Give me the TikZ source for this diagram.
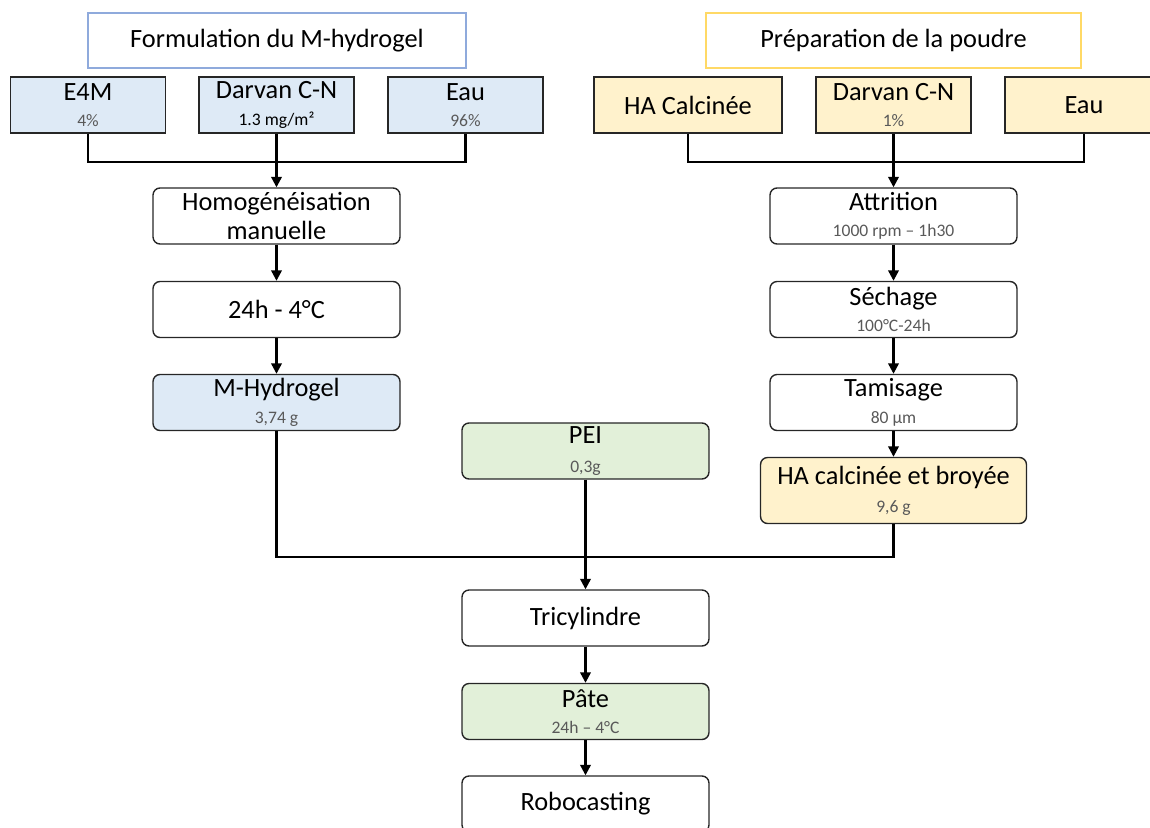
\documentclass[tikz,border=0pt]{standalone}
\usepackage{fontspec}
\setmainfont{Carlito}
\usetikzlibrary{arrows.meta}

% Text sizes used in the boxes
\newcommand{\mainsize}{\fontsize{15}{17}\selectfont}
\newcommand{\subtxt}[1]{{\fontsize{10}{11}\selectfont\color{subGrey}#1}}

\begin{document}
\begin{tikzpicture}[x=0.02cm, y=-0.02cm,
    base/.style={draw=boxLine, line width=0.8pt, align=center, inner sep=0pt, minimum height=1.12cm, font=\mainsize},
    inbox/.style={base, minimum width=3.1cm},
    stepbox/.style={base, rounded corners=0.14cm, minimum width=4.94cm},
    titlebox/.style={draw, line width=1.3pt, minimum height=1.1cm, font=\mainsize},
    link/.style={line width=1.3pt, draw=black},
    arrowlink/.style={link, -{Triangle[length=6pt, width=6pt]}}]
    % Define colours
    \definecolor{boxLine}{HTML}{262626}
    \definecolor{subGrey}{HTML}{595959}
    \definecolor{blueFill}{HTML}{DEEAF6}
    \definecolor{yellowFill}{HTML}{FFF2CC}
    \definecolor{greenFill}{HTML}{E2F0D9}
    \definecolor{blueEdge}{HTML}{8FAADC}
    \definecolor{yellowEdge}{HTML}{FFD966}

    % Macros for the two column centres and the merge line
    \def\leftX{276.5} % centre of the hydrogel column
    \def\rightX{893.5} % centre of the powder column
    \def\midX{585.5} % centre of the paste column
    \def\joinY{162} % height of the top junctions
    \def\mergeY{557} % height of the merge line

    % Fix the page size
    \useasboundingbox (0,0) rectangle (1150,828);

    % Titles of the two branches
    \node[titlebox, draw=blueEdge, minimum width=7.56cm] (titleL) at (277,40.5) {Formulation du M-hydrogel};
    \node[titlebox, draw=yellowEdge, minimum width=7.5cm] (titleR) at (\rightX,40.5) {Préparation de la poudre};

    % Ingredients of the hydrogel
    \node[inbox, fill=blueFill] (e4m) at (88,105) {E4M\\[-2pt]\subtxt{4\%}};
    \node[inbox, fill=blueFill] (darvanL) at (\leftX,105) {Darvan C-N\\[-2pt]{\fontsize{10}{11}\selectfont 1.3 mg/m²}};
    \node[inbox, fill=blueFill] (eauL) at (465.5,105) {Eau\\[-2pt]\subtxt{96\%}};

    % Ingredients of the powder
    \node[inbox, fill=yellowFill, minimum width=3.76cm] (haC) at (688,105) {HA Calcinée};
    \node[inbox, fill=yellowFill] (darvanR) at (\rightX,105) {Darvan C-N\\[-2pt]\subtxt{1\%}};
    \node[inbox, fill=yellowFill, minimum width=3.16cm] (eauR) at (1084,105) {Eau};

    % Hydrogel column
    \node[stepbox] (homog) at (\leftX,216) {Homogénéisation\\[0pt]manuelle};
    \node[stepbox] (froid) at (\leftX,309.5) {24h - 4°C};
    \node[stepbox, fill=blueFill] (hydrogel) at (\leftX,402.5) {M-Hydrogel\\[-2pt]\subtxt{3,74 g}};

    % Powder column
    \node[stepbox] (attrition) at (\rightX,216) {Attrition\\[-2pt]\subtxt{1000 rpm – 1h30}};
    \node[stepbox] (sechage) at (\rightX,309.5) {Séchage\\[-2pt]\subtxt{100°C-24h}};
    \node[stepbox] (tamisage) at (\rightX,402.5) {Tamisage\\[-2pt]\subtxt{80 µm}};
    \node[stepbox, fill=yellowFill, minimum width=5.32cm, minimum height=1.32cm] (broyee) at (\rightX,490.5) {HA calcinée et broyée\\[-1pt]\subtxt{9,6 g}};

    % Paste column
    \node[stepbox, fill=greenFill] (pei) at (\midX,451) {PEI\\[-1pt]\subtxt{0,3g}};
    \node[stepbox] (tricyl) at (\midX,618) {Tricylindre};
    \node[stepbox, fill=greenFill] (pate) at (\midX,711.5) {Pâte\\[-2pt]\subtxt{24h – 4°C}};
    \node[stepbox] (robo) at (\midX,804) {Robocasting};

    % Junction points
    \coordinate (joinL) at (\leftX,\joinY);
    \coordinate (joinR) at (\rightX,\joinY);
    \coordinate (joinM) at (\midX,\mergeY);

    % Draw the top junctions
    \draw[link] (e4m.south) |- (joinL) -| (eauL.south);
    \draw[arrowlink] (darvanL.south) -- (homog.north);
    \draw[link] (haC.south) |- (joinR) -| (eauR.south);
    \draw[arrowlink] (darvanR.south) -- (attrition.north);

    % Draw the column arrows
    \draw[arrowlink] (homog) -- (froid);
    \draw[arrowlink] (froid) -- (hydrogel);
    \draw[arrowlink] (attrition) -- (sechage);
    \draw[arrowlink] (sechage) -- (tamisage);
    \draw[arrowlink] (tamisage) -- (broyee);

    % Draw the merge into the paste
    \draw[link] (hydrogel.south) |- (joinM) -| (broyee.south);
    \draw[arrowlink] (pei.south) -- (tricyl.north);
    \draw[arrowlink] (tricyl) -- (pate);
    \draw[arrowlink] (pate) -- (robo);

\end{tikzpicture}
\end{document}
